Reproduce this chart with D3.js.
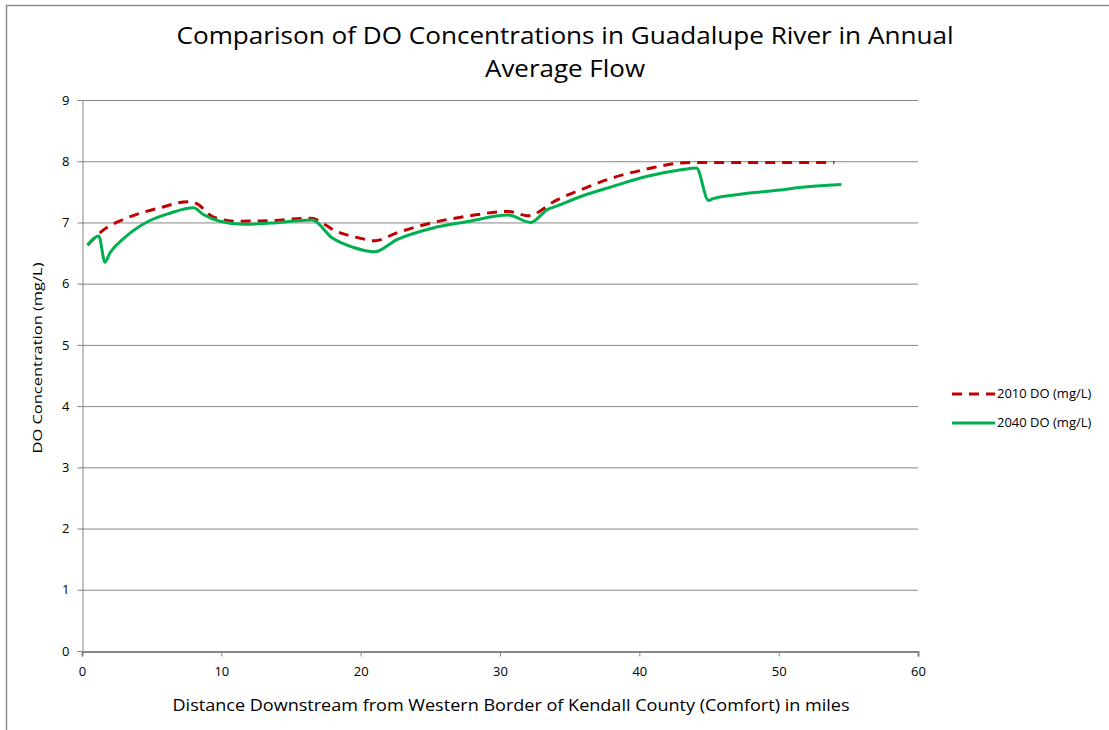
<!DOCTYPE html>
<html>
<head>
<meta charset="utf-8">
<script src="https://cdn.jsdelivr.net/npm/d3@7"></script>
<style>
  body { margin: 0; background: #fff; }
  svg text { font-family: "Open Sans", sans-serif; fill: #000; }
</style>
</head>
<body>
<svg id="chart" width="1109" height="730"></svg>
<script>
// data (miles, mg/L)
let do2010 = [[0.4,6.63],[1.5,6.87],[3.2,7.07],[5.6,7.24],[7.6,7.34],[8.2,7.31],[9.4,7.09],[11.1,7.02],[13.5,7.03],[16.4,7.07],[18.3,6.85],[20.0,6.74],[21.0,6.70],[22.6,6.83],[25.2,7.0],[27.6,7.1],[30.6,7.18],[32.0,7.11],[34.1,7.37],[35.75,7.53],[38.1,7.73],[40.5,7.87],[42.9,7.97],[44.0,7.98],[49.0,7.98],[54.0,7.98]];
let do2040 = [[0.4,6.63],[1.2,6.78],[1.65,6.35],[2.0,6.5],[3.0,6.74],[4.6,7.0],[6.3,7.15],[8.0,7.24],[8.7,7.13],[9.9,7.02],[11.6,6.97],[13.5,6.99],[16.5,7.04],[18.0,6.74],[19.5,6.59],[21.0,6.52],[22.6,6.72],[25.2,6.91],[27.6,7.01],[30.6,7.12],[32.2,7.0],[33.4,7.21],[34.1,7.27],[35.75,7.42],[38.1,7.59],[40.5,7.75],[43.0,7.86],[44.1,7.89],[44.96,7.36],[45.3,7.39],[47.2,7.46],[50.1,7.53],[51.5,7.57],[54.5,7.62]];
let xTicks = [0,10,20,30,40,50,60];
let yTicks = [0,1,2,3,4,5,6,7,8,9];
let seriesNames = ["2010 DO (mg/L)", "2040 DO (mg/L)"];

let red = "#c00000";
let green = "#00b050";
let gridColor = "#868686";

let svg = d3.select("#chart");

// outer chart border
svg.append("rect")
  .attr("x",6.5).attr("y",5.5)
  .attr("width",1110).attr("height",740)
  .attr("fill","none").attr("stroke","#8c8c8c").attr("stroke-width",1.5);

let plotLeft = 82, plotRight = 918, plotTop = 100, plotBottom = 651;
let x = d3.scaleLinear().domain([0,60]).range([plotLeft,plotRight]);
let y = d3.scaleLinear().domain([0,9]).range([plotBottom,plotTop]);

// gridlines
svg.append("g").selectAll("line").data(yTicks.slice(1)).join("line")
  .attr("x1",plotLeft).attr("x2",plotRight)
  .attr("y1",d=>y(d)+0.5).attr("y2",d=>y(d)+0.5)
  .attr("stroke",gridColor).attr("stroke-width",1);

// y axis
let yAxis = svg.append("g").attr("transform","translate("+(plotLeft+0.5)+",0)")
  .call(d3.axisLeft(y).tickValues(yTicks).tickSize(5).tickPadding(8).tickFormat(d3.format("d")));
yAxis.select(".domain").attr("stroke",gridColor);
yAxis.selectAll(".tick line").attr("stroke",gridColor);
yAxis.selectAll("text").attr("font-size",13).attr("fill","#000");

// x axis
let xAxis = svg.append("g").attr("transform","translate(0,"+(plotBottom+0.5)+")")
  .call(d3.axisBottom(x).tickValues(xTicks).tickSize(5).tickPadding(10).tickFormat(d3.format("d")));
xAxis.select(".domain").attr("stroke",gridColor).attr("stroke-width",2);
xAxis.selectAll(".tick line").attr("stroke",gridColor);
xAxis.selectAll("text").attr("font-size",13).attr("fill","#000");

// lines
let line = d3.line().x(d=>x(d[0])).y(d=>y(d[1])).curve(d3.curveMonotoneX);
svg.append("path").datum(do2010)
  .attr("d",line).attr("fill","none")
  .attr("stroke",red).attr("stroke-width",3).attr("stroke-dasharray","10,7");
svg.append("path").datum(do2040)
  .attr("d",line).attr("fill","none")
  .attr("stroke",green).attr("stroke-width",3);

// title (two separate lines)
svg.append("text").attr("x",565).attr("y",44).attr("text-anchor","middle").attr("font-size",24)
  .attr("textLength",777).attr("lengthAdjust","spacingAndGlyphs")
  .text("Comparison of DO Concentrations in Guadalupe River in Annual");
svg.append("text").attr("x",565).attr("y",77).attr("text-anchor","middle").attr("font-size",24)
  .attr("textLength",160).attr("lengthAdjust","spacingAndGlyphs")
  .text("Average Flow");

// axis titles
svg.append("text").attr("x",511).attr("y",711).attr("text-anchor","middle").attr("font-size",16)
  .attr("textLength",677).attr("lengthAdjust","spacingAndGlyphs")
  .text("Distance Downstream from Western Border of Kendall County (Comfort) in miles");
svg.append("text").attr("transform","translate(42,358) rotate(-90)").attr("text-anchor","middle").attr("font-size",13)
  .attr("textLength",191).attr("lengthAdjust","spacingAndGlyphs")
  .text("DO Concentration (mg/L)");

// legend
let legend = svg.append("g");
legend.append("line").attr("x1",952).attr("x2",995).attr("y1",394).attr("y2",394)
  .attr("stroke",red).attr("stroke-width",3).attr("stroke-dasharray","10,7");
legend.append("line").attr("x1",952).attr("x2",995).attr("y1",423).attr("y2",423)
  .attr("stroke",green).attr("stroke-width",3);
legend.selectAll("text").data(seriesNames).join("text")
  .attr("x",997).attr("y",(d,i)=>398+i*29).attr("font-size",13).text(d=>d);
</script>
</body>
</html>
